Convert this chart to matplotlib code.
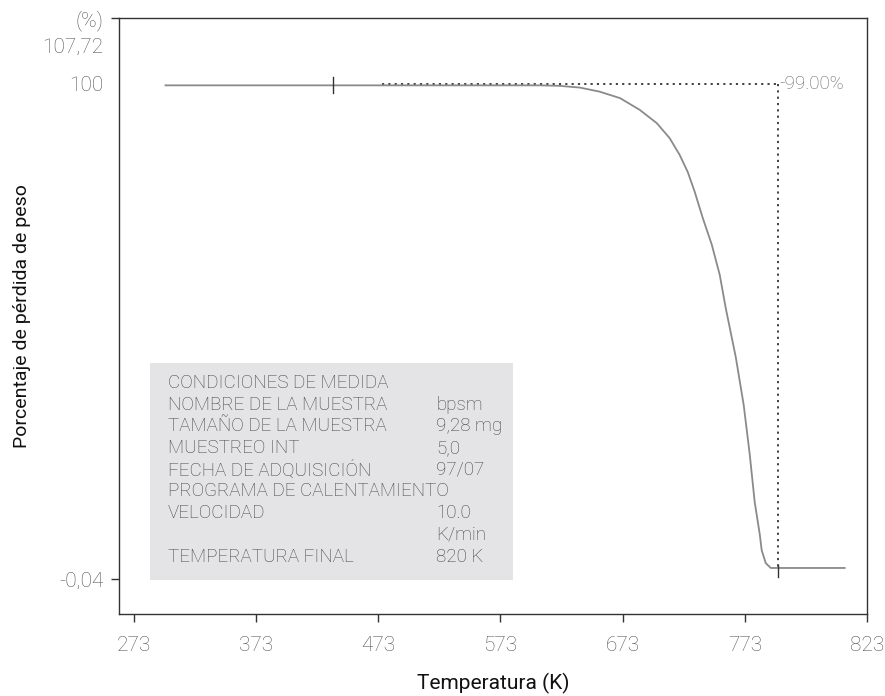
import matplotlib.pyplot as plt
from matplotlib.patches import Rectangle

plt.rcParams['font.family'] = ['Roboto', 'DejaVu Sans']
plt.rcParams['font.weight'] = 'light'

# TGA curve: temperature (K) vs remaining weight (%)
temp_k = [299, 605, 621.5, 638, 654, 671, 687, 701, 711.5, 719.7, 726.3, 732, 738.6, 746,
          752.5, 757.4, 765.6, 772.1, 777, 781.1, 785.2, 786.8, 790.1, 794.2, 800.7, 854.7]
weight_pct = [99.7, 99.7, 99.6, 99.25, 98.44, 97.11, 94.75, 92.06, 89.03, 85.65, 82.2, 78.2,
              72.9, 67.5, 61.4, 54.7, 44.8, 35.1, 25.2, 15.5, 9.05, 5.8, 3.2, 2.2, 2.2, 2.2]

# markers / reference lines
start_mark_k = 436
onset_k = 476
end_k = 800
loss_label = "-99.00%"

x_ticks = [273, 373, 473, 573, 673, 773, 873]
x_tick_labels = ["273", "373", "473", "573", "673", "773", "823"]
y_ticks = [-0.04, 100, 107.72, 113.3]
y_tick_labels = ["-0,04", "100", "107,72", "(%)"]

cond_labels = ["CONDICIONES DE MEDIDA", "NOMBRE DE LA MUESTRA", "TAMAÑO DE LA MUESTRA",
               "MUESTREO INT", "FECHA DE ADQUISICIÓN", "PROGRAMA DE CALENTAMIENTO",
               "VELOCIDAD", "", "TEMPERATURA FINAL"]
cond_values = ["", "bpsm", "9,28 mg", "5,0", "97/07", "", "10.0", "K/min", "820 K"]

fig = plt.figure(figsize=(8.85, 6.96), dpi=100)
ax = fig.add_axes([0.1345, 0.1178, 0.8452, 0.8563])

ax.plot(temp_k, weight_pct, color="#8a8a8a", lw=1.3, zorder=3)

# dotted guide lines
ax.plot([onset_k, end_k], [100, 100], color="#333333", lw=1.3, ls=(0, (1.2, 2.3)), zorder=2)
ax.plot([end_k, end_k], [100, weight_pct[-1]], color="#333333", lw=1.3, ls=(0, (1.2, 2.3)), zorder=2)
ax.text(end_k + 1, 100, loss_label, color="#666666", fontsize=13.5, va="center", ha="left")

# small vertical marks on the curve
ax.plot([start_mark_k, start_mark_k], [98.2, 101.4], color="#333333", lw=1.0, zorder=4)
ax.plot([end_k, end_k], [weight_pct[-1] - 1.8, weight_pct[-1] + 0.6], color="#333333", lw=1.0, zorder=4)

ax.set_xlim(261, 873)
ax.set_ylim(-7.1, 113.3)

ax.set_xticks(x_ticks)
ax.set_xticklabels(x_tick_labels)
ax.set_yticks(y_ticks)
ax.set_yticklabels(y_tick_labels)
ax.tick_params(axis="both", direction="out", length=6, width=1, color="#333333",
               labelsize=15, labelcolor="#555555")
ax.tick_params(axis="x", pad=10)
ax.tick_params(axis="y", pad=5)
for i in (1, 2):
    ax.yaxis.get_major_ticks()[i].tick1line.set_visible(False)

for sp in ax.spines.values():
    sp.set_color("#333333")
    sp.set_linewidth(1.0)

ax.set_xlabel("Temperatura (K)", fontsize=15, fontweight="normal", color="#111111")
ax.set_ylabel("Porcentaje de pérdida de peso", fontsize=14, fontweight="normal", color="#111111")
ax.xaxis.set_label_coords(0.5, -0.099)
ax.yaxis.set_label_coords(-0.1297, 0.5)
ax.yaxis.label.set_verticalalignment("center")

# measurement conditions box
ax.add_patch(Rectangle((0.0414, 0.057), 0.4853, 0.3641, transform=ax.transAxes,
                       facecolor="#e4e4e6", edgecolor="none", zorder=1))
y0 = 0.3876
for i, (lab, val) in enumerate(zip(cond_labels, cond_values)):
    yy = y0 - i * 0.0364
    ax.text(0.0655, yy, lab, transform=ax.transAxes, fontsize=13.5, color="#444444",
            va="center", ha="left", zorder=2)
    ax.text(0.4238, yy, val, transform=ax.transAxes, fontsize=13.5, color="#444444",
            va="center", ha="left", zorder=2)

fig.savefig("out.png", dpi=100)
